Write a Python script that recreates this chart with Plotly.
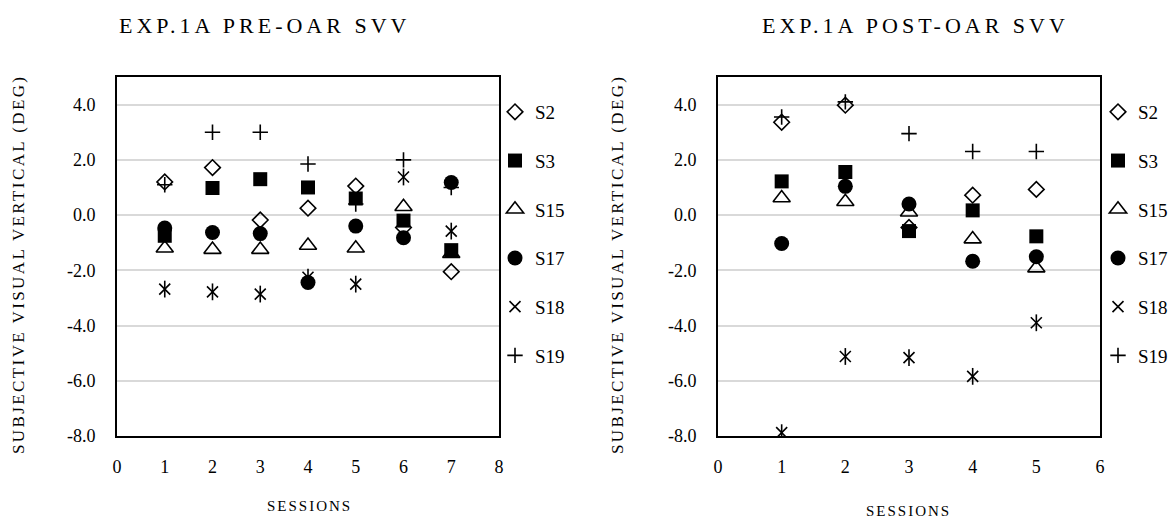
import plotly.graph_objects as go

# ---------------- data ----------------
sessions_pre = [1, 2, 3, 4, 5, 6, 7]
pre_S2 = [1.2, 1.72, -0.18, 0.25, 1.05, -0.45, -2.05]
pre_S3 = [-0.75, 0.98, 1.3, 1.0, 0.6, -0.2, -1.27]
pre_S15 = [-1.2, -1.25, -1.25, -1.1, -1.2, 0.3, -1.4]
pre_S17 = [-0.47, -0.63, -0.67, -2.44, -0.4, -0.82, 1.18]
pre_S18 = [-2.68, -2.78, -2.86, -2.25, -2.5, 1.38, -0.58]
pre_S19 = [1.1, 3.0, 3.0, 1.85, 0.4, 2.0, 1.0]

sessions_post = [1, 2, 3, 4, 5]
post_S2 = [3.36, 3.98, -0.45, 0.72, 0.93]
post_S3 = [1.22, 1.56, -0.58, 0.17, -0.77]
post_S15 = [0.62, 0.48, 0.1, -0.87, -1.92]
post_S17 = [-1.03, 1.04, 0.4, -1.67, -1.51]
post_S18 = [-7.88, -5.12, -5.16, -5.84, -3.9]
post_S19 = [3.55, 4.1, 2.95, 2.3, 2.3]

series_names = ["S2", "S3", "S15", "S17", "S18", "S19"]
y_tickvals = [-8, -6, -4, -2, 0, 2, 4]
y_ticktext = ["-8.0", "-6.0", "-4.0", "-2.0", "0.0", "2.0", "4.0"]
pre_xticks = [0, 1, 2, 3, 4, 5, 6, 7, 8]
post_xticks = [0, 1, 2, 3, 4, 5, 6]
title_pre = "EXP.1A PRE-OAR SVV"
title_post = "EXP.1A POST-OAR SVV"
y_title = "SUBJECTIVE VISUAL VERTICAL (DEG)"
x_title = "SESSIONS"

# ---------------- styling ----------------
W, H = 1176, 525
OFF = 8  # default page body margin
FONT = "'Liberation Serif', 'Times New Roman', Times, 'DejaVu Serif', serif"
BLACK = "#000000"

def px(x):
    return (x - OFF) / W

def py(y):
    return 1 - (y - OFF) / H

styles = {
    "S2": dict(symbol="diamond-open", size=12, color=BLACK, line=dict(width=1.6, color=BLACK)),
    "S3": dict(symbol="square", size=14, color=BLACK, line=dict(width=0, color=BLACK)),
    "S15": dict(symbol="triangle-up-open", size=15, color=BLACK, line=dict(width=1.6, color=BLACK)),
    "S17": dict(symbol="circle", size=15, color=BLACK, line=dict(width=0, color=BLACK)),
    "S18": dict(symbol="x-thin-open", size=11, color=BLACK, line=dict(width=1.6, color=BLACK)),
    "S19": dict(symbol="cross-thin-open", size=11, color=BLACK, line=dict(width=1.6, color=BLACK)),
}

fig = go.Figure()

pre_data = [pre_S2, pre_S3, pre_S15, pre_S17, pre_S18, pre_S19]
post_data = [post_S2, post_S3, post_S15, post_S17, post_S18, post_S19]

for panel, (xs, data, xa, ya, leg) in enumerate([
    (sessions_pre, pre_data, "x", "y", "legend"),
    (sessions_post, post_data, "x2", "y2", "legend2"),
]):
    for name, ys in zip(series_names, data):
        fig.add_trace(go.Scatter(
            x=xs, y=ys, mode="markers", name=name,
            marker=styles[name], xaxis=xa, yaxis=ya,
            legend=leg, legendgroup=f"{panel}-{name}",
        ))
        if name == "S18":
            fig.add_trace(go.Scatter(
                x=xs, y=ys, mode="markers", name=name, showlegend=False,
                marker=dict(symbol="line-ns-open", size=12, color=BLACK,
                            line=dict(width=1.6, color=BLACK)),
                xaxis=xa, yaxis=ya, legendgroup=f"{panel}-{name}",
                hoverinfo="skip",
            ))

ydom = [py(436), py(77)]
axis_common = dict(
    showline=True, linecolor=BLACK, linewidth=2, mirror=True,
    ticks="", zeroline=False,
    tickfont=dict(family=FONT, size=18, color=BLACK),
)

fig.update_layout(
    width=W, height=H,
    margin=dict(l=0, r=0, t=0, b=0, autoexpand=False),
    paper_bgcolor="white", plot_bgcolor="white",
    font=dict(family=FONT, color=BLACK),
    xaxis=dict(domain=[px(117), px(499)], range=[0, 8], tickvals=pre_xticks,
               showgrid=False, anchor="y", ticklabelstandoff=13, **axis_common),
    yaxis=dict(domain=ydom, range=[-8, 5], tickvals=y_tickvals, ticktext=y_ticktext,
               showgrid=True, gridcolor="#d9d9d9", gridwidth=1.5, anchor="x",
               ticklabelstandoff=16, **axis_common),
    xaxis2=dict(domain=[px(718), px(1100)], range=[0, 6], tickvals=post_xticks,
                showgrid=False, anchor="y2", ticklabelstandoff=13, **axis_common),
    yaxis2=dict(domain=ydom, range=[-8, 5], tickvals=y_tickvals, ticktext=y_ticktext,
                showgrid=True, gridcolor="#d9d9d9", gridwidth=1.5, anchor="x2",
                ticklabelstandoff=16, **axis_common),
    legend=dict(x=px(495), y=py(93), xanchor="left", yanchor="top",
                tracegroupgap=21, bgcolor="rgba(0,0,0,0)",
                font=dict(family=FONT, size=19, color=BLACK)),
    legend2=dict(x=px(1098), y=py(93), xanchor="left", yanchor="top",
                 tracegroupgap=21, bgcolor="rgba(0,0,0,0)",
                 font=dict(family=FONT, size=19, color=BLACK)),
    showlegend=True,
)

def spaced(text, sp):
    return f'<span style="letter-spacing:{sp}px">{text}</span>'

annos = [
    dict(x=px(264), y=py(25), text=spaced(title_pre, 4), size=22, angle=0),
    dict(x=px(915), y=py(25), text=spaced(title_post, 4), size=22, angle=0),
    dict(x=px(18), y=py(265), text=spaced(y_title, 2.4), size=17, angle=-90),
    dict(x=px(617), y=py(265), text=spaced(y_title, 2.4), size=17, angle=-90),
    dict(x=px(309), y=py(506), text=spaced(x_title, 2), size=15, angle=0),
    dict(x=px(908), y=py(511), text=spaced(x_title, 2), size=15, angle=0),
]
for a in annos:
    fig.add_annotation(
        x=a["x"], y=a["y"], xref="paper", yref="paper", text=a["text"],
        showarrow=False, textangle=a["angle"], xanchor="center", yanchor="middle",
        font=dict(family=FONT, size=a["size"], color=BLACK),
    )

fig.write_html("out.html")
